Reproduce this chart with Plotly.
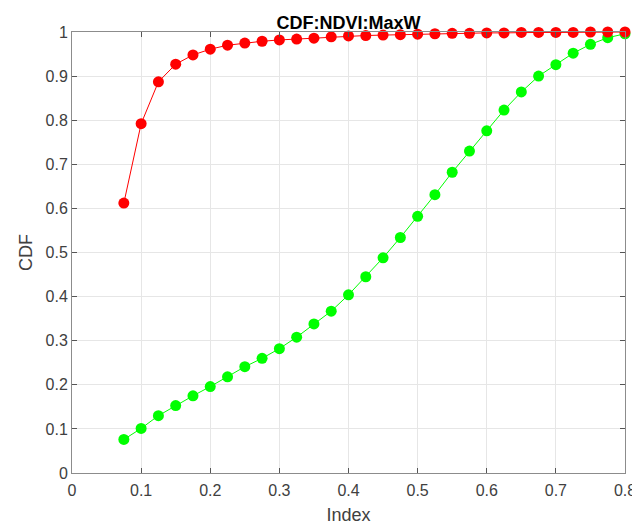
import plotly.graph_objects as go

index_vals = [0.075, 0.1, 0.125, 0.15, 0.175, 0.2, 0.225, 0.25, 0.275, 0.3,
              0.325, 0.35, 0.375, 0.4, 0.425, 0.45, 0.475, 0.5, 0.525, 0.55,
              0.575, 0.6, 0.625, 0.65, 0.675, 0.7, 0.725, 0.75, 0.775, 0.8]

cdf_red = [0.612, 0.792, 0.887, 0.927, 0.948, 0.961, 0.970, 0.975, 0.979, 0.982,
           0.984, 0.986, 0.989, 0.991, 0.992, 0.993, 0.994, 0.995, 0.996, 0.997,
           0.997, 0.998, 0.998, 0.999, 0.999, 0.999, 0.999, 1.0, 1.0, 1.0]

cdf_green = [0.076, 0.101, 0.130, 0.153, 0.175, 0.196, 0.218, 0.241, 0.260, 0.282,
             0.308, 0.338, 0.367, 0.404, 0.445, 0.488, 0.534, 0.582, 0.631, 0.682,
             0.730, 0.776, 0.823, 0.864, 0.900, 0.926, 0.952, 0.972, 0.987, 0.996]

x_ticks = [0, 0.1, 0.2, 0.3, 0.4, 0.5, 0.6, 0.7, 0.8]
y_ticks = [0, 0.1, 0.2, 0.3, 0.4, 0.5, 0.6, 0.7, 0.8, 0.9, 1]

FONT = "Liberation Sans, Arial, sans-serif"

fig = go.Figure()
fig.add_trace(go.Scatter(x=index_vals, y=cdf_green, mode="lines+markers",
                         line=dict(color="#00FF00", width=1),
                         marker=dict(color="#00FF00", size=11),
                         cliponaxis=False, showlegend=False))
fig.add_trace(go.Scatter(x=index_vals, y=cdf_red, mode="lines+markers",
                         line=dict(color="#FF0000", width=1),
                         marker=dict(color="#FF0000", size=11),
                         cliponaxis=False, showlegend=False))

axis_common = dict(
    showgrid=True, gridcolor="#E6E6E6", gridwidth=1,
    showline=True, linecolor="#8C8C8C", linewidth=1, mirror="allticks",
    ticks="inside", ticklen=5, tickcolor="#555555",
    zeroline=False, automargin=False,
    tickfont=dict(family=FONT, size=16, color="#404040"),
)

fig.update_layout(
    width=632, height=517,
    margin=dict(l=64, r=15, t=24, b=52, autoexpand=False),
    paper_bgcolor="white", plot_bgcolor="white",
    title=dict(text="<b>CDF:NDVI:MaxW</b>", x=0.5, xanchor="center", xref="paper",
               y=1, yref="paper", yanchor="bottom", pad=dict(b=3), automargin=False,
               font=dict(family=FONT, size=18, color="black")),
    xaxis=dict(range=[0, 0.8], tickvals=x_ticks, ticklabelstandoff=3,
               title=dict(text="Index", standoff=10,
                          font=dict(family=FONT, size=18, color="#404040")),
               **axis_common),
    yaxis=dict(range=[0, 1], tickvals=y_ticks,
               title=dict(text="CDF", standoff=8,
                          font=dict(family=FONT, size=18, color="#404040")),
               **axis_common),
)

fig.write_html("out.html")
